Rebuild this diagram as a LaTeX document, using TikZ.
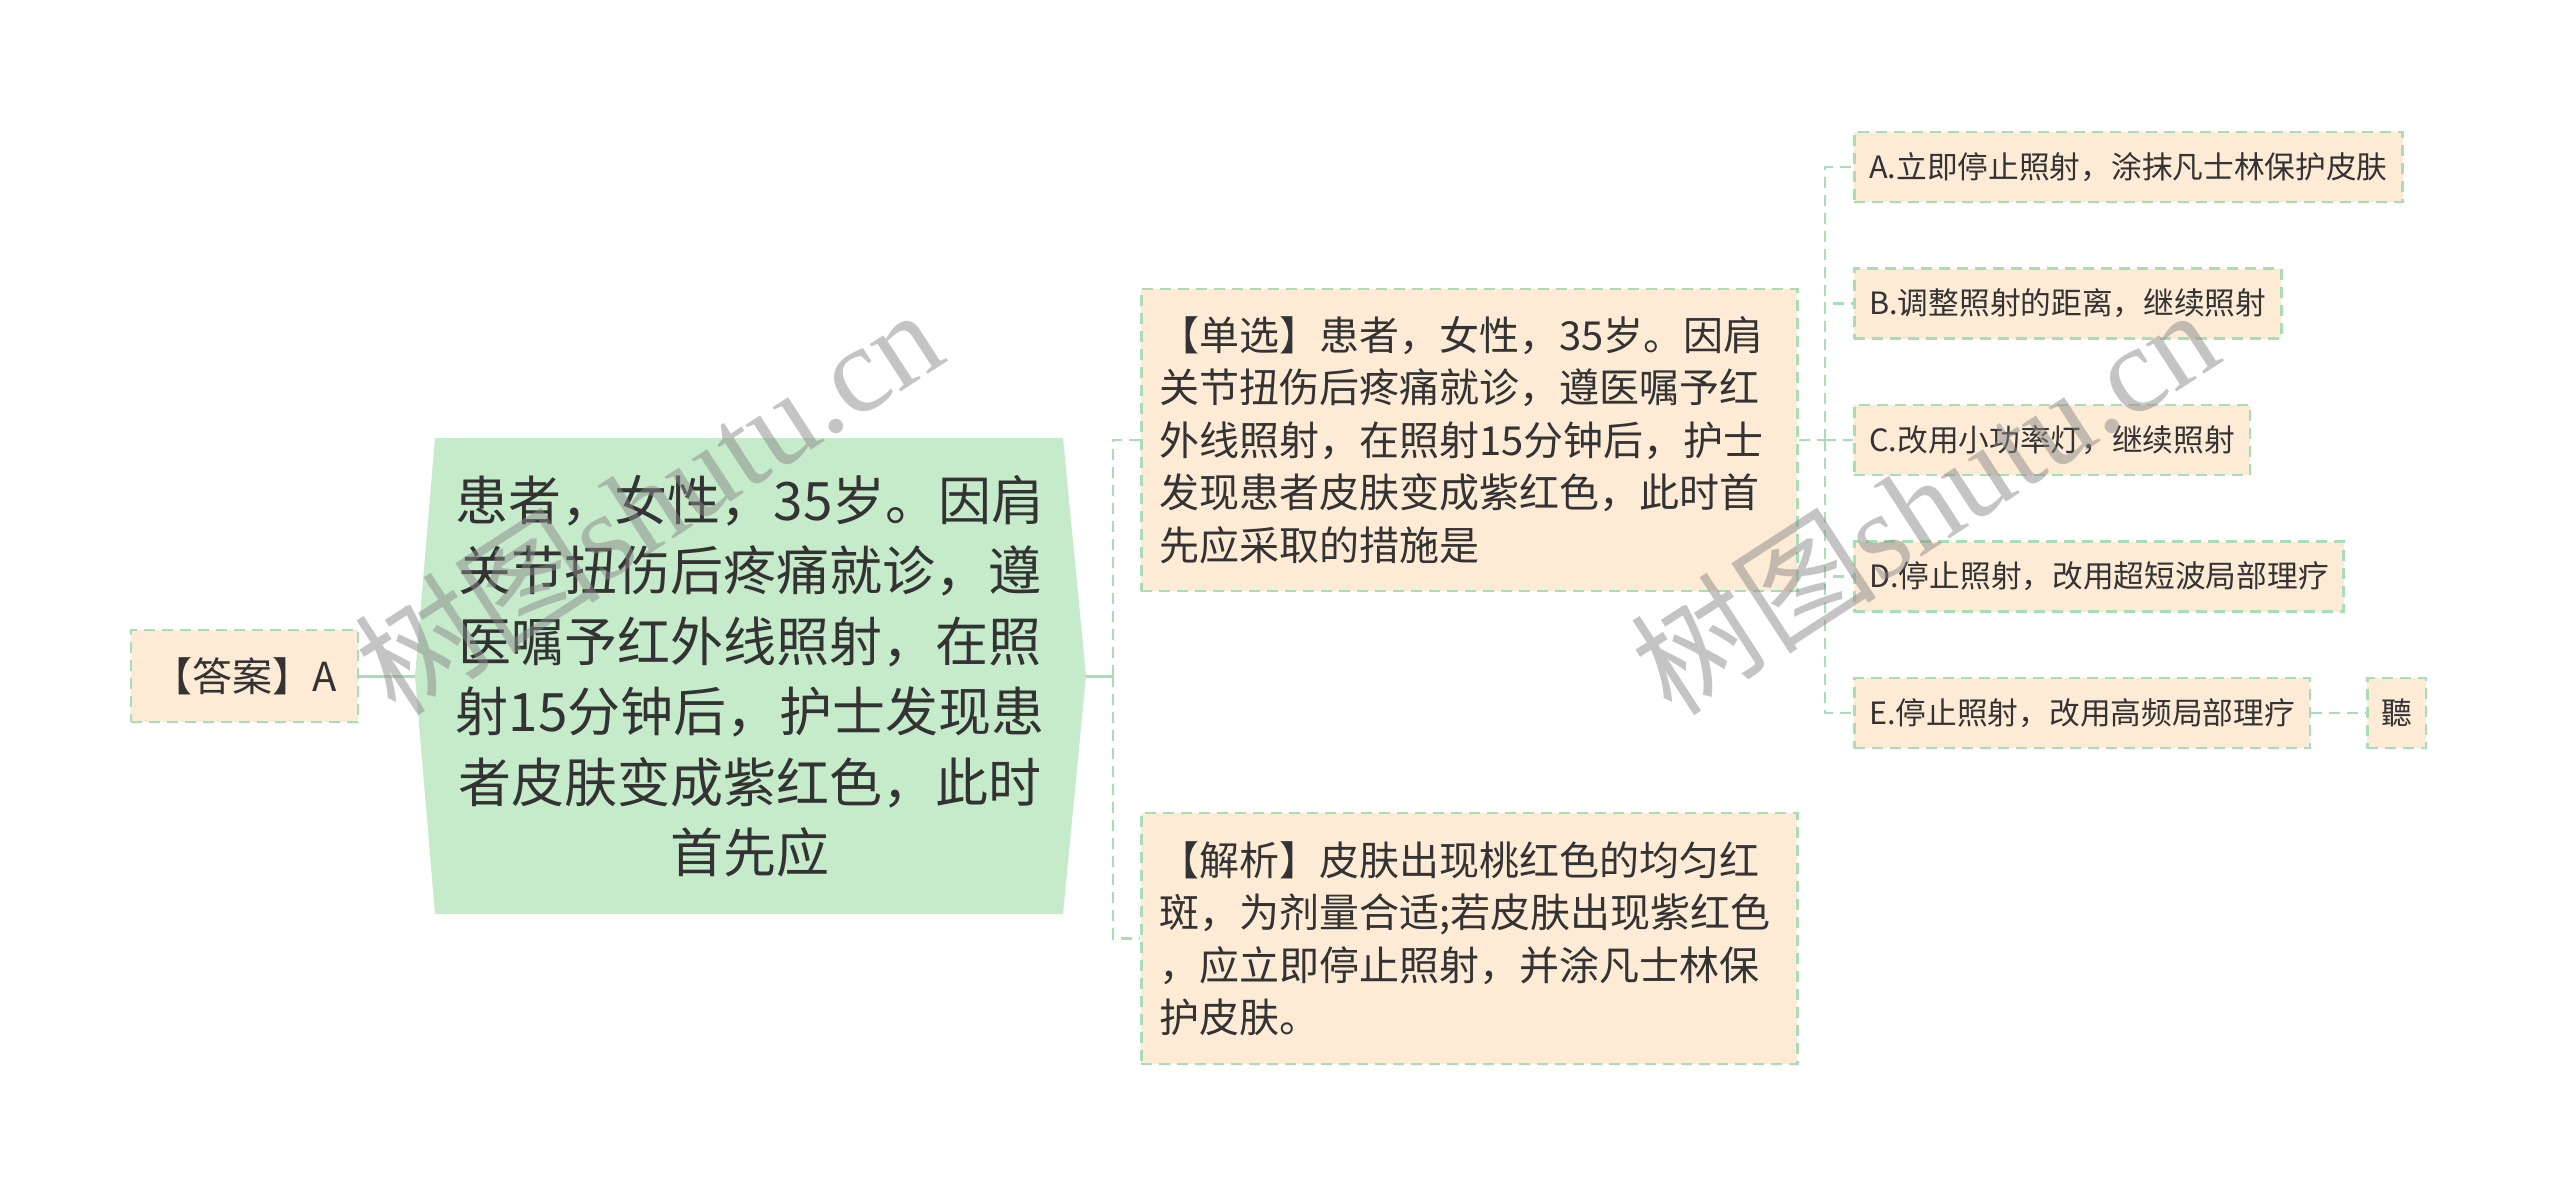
\documentclass[tikz,border=0pt]{standalone}
\usepackage{fontspec}
\setmainfont{Noto Sans CJK SC}
\newfontfamily\wmlatin{Liberation Serif}
\usetikzlibrary{backgrounds}
\definecolor{txt}{HTML}{333333}
\definecolor{peach}{HTML}{FDEBD6}
\definecolor{mainfill}{HTML}{C6EBCB}
\definecolor{bord}{HTML}{A9DDB6}
\definecolor{wmgray}{HTML}{8A8A8A}
\begin{document}
\begin{tikzpicture}[x=1pt,y=-1pt,
  every node/.style={text=txt, inner sep=0pt},
  peachbox/.style={draw=bord, fill=peach, line width=2.5pt, dash pattern=on 11pt off 7pt},
  leaf/.style={peachbox, font=\fontsize{30.7}{40}\selectfont, minimum height=70, inner xsep=15, anchor=west},
  bigbox/.style={peachbox, font=\fontsize{40}{52.5}\selectfont, text width=620, inner xsep=18, align=left, anchor=west},
  link/.style={draw=bord, line width=3pt},
  dlink/.style={draw=bord, line width=2.5pt, dash pattern=on 11pt off 7pt},
  wm/.style={text=wmgray, opacity=0.5, font=\fontsize{123}{123}\selectfont}
]
\useasboundingbox (0,0) rectangle (2560,1197);

% root shape
\fill[mainfill] (435,438) -- (1063,438) -- (1086,676) -- (1063,914) -- (435,914) -- (415,676) -- cycle;
\coordinate (mainW) at (415,676);
\coordinate (mainE) at (1086,676);
\node[align=center, font=\fontsize{53}{70.5}\selectfont] (main) at (750,676)
  {患者，女性，35岁。因肩\\关节扭伤后疼痛就诊，遵\\医嘱予红外线照射，在照\\射15分钟后，护士发现患\\者皮肤变成紫红色，此时\\首先应};

% answer
\node[peachbox, font=\fontsize{40}{48}\selectfont, minimum width=227, minimum height=92] (ans) at (244.5,676) {【答案】A};

% question and analysis
\node[bigbox, minimum height=302] (q) at (1140,440)
  {【单选】患者，女性，35岁。因肩\\关节扭伤后疼痛就诊，遵医嘱予红\\外线照射，在照射15分钟后，护士\\发现患者皮肤变成紫红色，此时首\\先应采取的措施是};
\node[bigbox, minimum height=251] (s) at (1140,938.5)
  {【解析】皮肤出现桃红色的均匀红\\斑，为剂量合适;若皮肤出现紫红色\\，应立即停止照射，并涂凡士林保\\护皮肤。};

% options
\node[leaf] (oa) at (1853,167) {A.立即停止照射，涂抹凡士林保护皮肤};
\node[leaf] (ob) at (1853,303.5) {B.调整照射的距离，继续照射};
\node[leaf] (oc) at (1853,440) {C.改用小功率灯，继续照射};
\node[leaf] (od) at (1853,576.5) {D.停止照射，改用超短波局部理疗};
\node[leaf] (oe) at (1853,713) {E.停止照射，改用高频局部理疗};
\node[leaf, inner xsep=14] (ting) at (2366,713) {聽};

\coordinate (j1) at (1113,676);
\coordinate (j2) at (1825,440);

\begin{scope}[on background layer]
  \fill[white] (0,0) rectangle (2560,1197);
  \draw[link] (ans.east) -- (mainW);
  \draw[link] (mainE) -- (j1);
  \draw[dlink] (j1) |- (q.west);
  \draw[dlink] (j1) |- (s.west);
  \draw[dlink] (q.east) -- (j2);
  \foreach \n in {oa,ob,oc,od,oe} \draw[dlink] (j2) |- (\n.west);
  \draw[dlink] (oe.east) -- (ting.west);
\end{scope}

% watermarks
\node[wm, rotate=33] (wm1) at (648,500) {树图{\wmlatin shutu.cn}};
\node[wm, rotate=33] (wm2) at (1924,500) {树图{\wmlatin shutu.cn}};
\end{tikzpicture}
\end{document}
